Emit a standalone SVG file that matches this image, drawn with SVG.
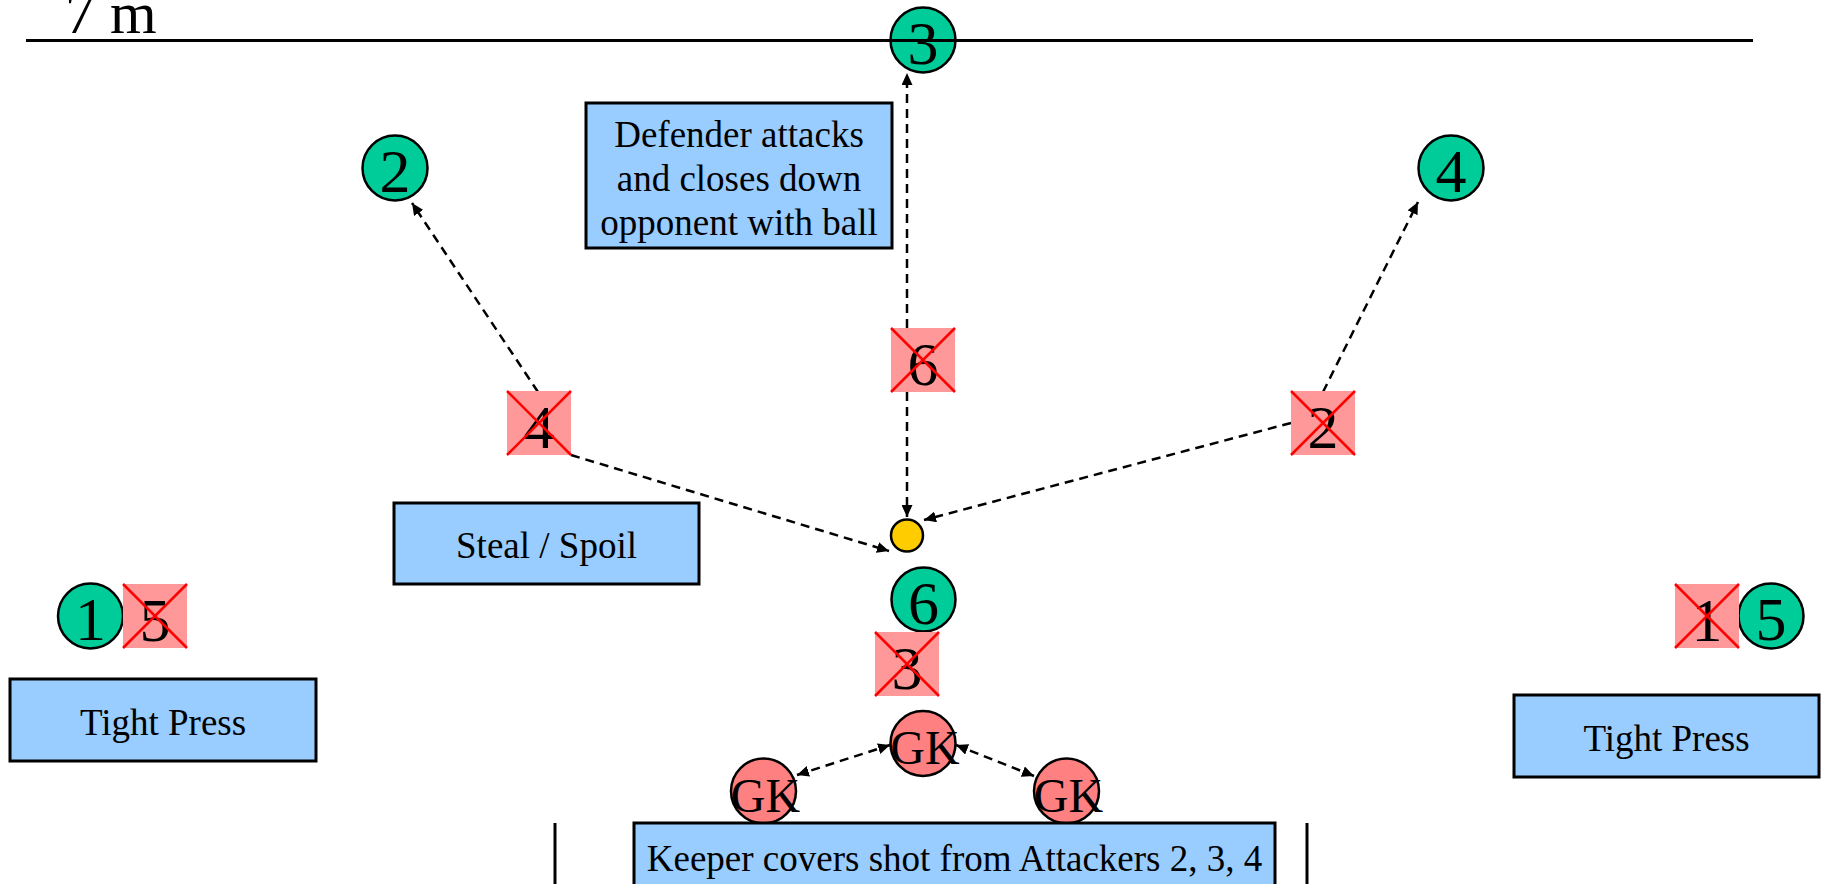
<svg xmlns="http://www.w3.org/2000/svg" width="1826" height="884" viewBox="0 0 1826 884">
  <style>
    .att { fill: #00CC99; stroke: #000; stroke-width: 2.5; }
    .gk { fill: #FF8080; stroke: #000; stroke-width: 2.5; }
    .def { fill: #FF9999; stroke: none; }
    .cross { stroke: #FF0000; stroke-width: 2.5; }
    .ball { fill: #FFCC00; stroke: #000; stroke-width: 2.5; }
    .note { fill: #99CCFF; stroke: #000; stroke-width: 3; }
    .num { font-family: "Liberation Serif", "Times New Roman", serif; font-size: 62px; fill: #000; text-anchor: middle; }
    .gkt { font-family: "Liberation Serif", "Times New Roman", serif; font-size: 48px; fill: #000; text-anchor: middle; }
    .lbl { font-family: "Liberation Serif", "Times New Roman", serif; font-size: 37px; fill: #000; text-anchor: middle; }
    .run { fill: none; stroke: #000; stroke-width: 2.5; stroke-dasharray: 9 6; }
    .mark { stroke: #000; stroke-width: 3; }
  </style>
  <defs>
    <marker id="arrow" markerUnits="userSpaceOnUse" markerWidth="13" markerHeight="11" refX="12" refY="5.5" orient="auto-start-reverse">
      <path d="M0,0 L12,5.5 L0,11 z" fill="#000"/>
    </marker>
  </defs>

  <rect width="1826" height="884" fill="#fff"/>

  <!-- field markings -->
  <text x="65" y="33" font-family="Liberation Serif, Times New Roman, serif" font-size="60">7 m</text>
  <line class="mark" x1="555" y1="823" x2="555" y2="884"/>
  <line class="mark" x1="1307" y1="823" x2="1307" y2="884"/>

  <!-- movement and coverage lines -->
  <g id="connectors">
    <line class="run" x1="907" y1="328" x2="907" y2="73" marker-end="url(#arrow)"/>
    <line class="run" x1="907" y1="392" x2="907" y2="517" marker-end="url(#arrow)"/>
    <line class="run" x1="538" y1="392" x2="412" y2="203" marker-end="url(#arrow)"/>
    <line class="run" x1="571" y1="455" x2="889" y2="551" marker-end="url(#arrow)"/>
    <line class="run" x1="1323" y1="392" x2="1418" y2="202" marker-end="url(#arrow)"/>
    <line class="run" x1="1291" y1="423" x2="924" y2="520" marker-end="url(#arrow)"/>
    <line class="run" x1="797" y1="775" x2="890" y2="745" marker-start="url(#arrow)" marker-end="url(#arrow)"/>
    <line class="run" x1="956" y1="745" x2="1034" y2="776" marker-start="url(#arrow)" marker-end="url(#arrow)"/>
  </g>

  <!-- attackers -->
  <g id="att3"><circle class="att" cx="923" cy="40" r="32.5"/><text class="num" x="923" y="64">3</text></g>
  <g id="att2"><circle class="att" cx="395" cy="168" r="32.5"/><text class="num" x="395" y="192">2</text></g>
  <g id="att4"><circle class="att" cx="1451" cy="168" r="32.5"/><text class="num" x="1451" y="192">4</text></g>
  <g id="att1"><circle class="att" cx="90.5" cy="616" r="32.5"/><text class="num" x="90.5" y="640">1</text></g>
  <g id="att5"><circle class="att" cx="1771" cy="616" r="32.5"/><text class="num" x="1771" y="640">5</text></g>
  <g id="att6"><circle class="att" cx="923.5" cy="599.5" r="32"/><text class="num" x="923.5" y="624">6</text></g>

  <!-- beaten defenders -->
  <g id="def6"><rect class="def" x="891" y="328" width="64" height="64"/><text class="num" x="923" y="385">6</text><path class="cross" d="M891,328 L955,392 M955,328 L891,392"/></g>
  <g id="def4"><rect class="def" x="507" y="391" width="64" height="64"/><text class="num" x="539" y="448">4</text><path class="cross" d="M507,391 L571,455 M571,391 L507,455"/></g>
  <g id="def2"><rect class="def" x="1291" y="391" width="64" height="64"/><text class="num" x="1323" y="448">2</text><path class="cross" d="M1291,391 L1355,455 M1355,391 L1291,455"/></g>
  <g id="def5"><rect class="def" x="123" y="584" width="64" height="64"/><text class="num" x="155" y="641">5</text><path class="cross" d="M123,584 L187,648 M187,584 L123,648"/></g>
  <g id="def1"><rect class="def" x="1675" y="584" width="64" height="64"/><text class="num" x="1707" y="641">1</text><path class="cross" d="M1675,584 L1739,648 M1739,584 L1675,648"/></g>
  <g id="def3"><rect class="def" x="875" y="632" width="64" height="64"/><text class="num" x="907" y="689">3</text><path class="cross" d="M875,632 L939,696 M939,632 L875,696"/></g>

  <!-- ball -->
  <g id="ball"><circle class="ball" cx="907" cy="535.5" r="16"/></g>

  <!-- goalkeeper positions -->
  <g id="gk-centre"><circle class="gk" cx="923" cy="743.5" r="32.5"/><text class="gkt" x="925" y="764">GK</text></g>
  <g id="gk-left"><circle class="gk" cx="763.5" cy="791" r="32.5"/><text class="gkt" x="765.5" y="812">GK</text></g>
  <g id="gk-right"><circle class="gk" cx="1066.5" cy="791" r="32.5"/><text class="gkt" x="1068.5" y="812">GK</text></g>

  <!-- notes -->
  <g id="note-defender">
    <rect class="note" x="586" y="103" width="306" height="145"/>
    <text class="lbl" x="739" y="147">Defender attacks</text>
    <text class="lbl" x="739" y="191">and closes down</text>
    <text class="lbl" x="739" y="235">opponent with ball</text>
  </g>
  <g id="note-steal">
    <rect class="note" x="394" y="503" width="305" height="81"/>
    <text class="lbl" x="546.5" y="558">Steal / Spoil</text>
  </g>
  <g id="note-press-left">
    <rect class="note" x="10" y="679" width="306" height="82"/>
    <text class="lbl" x="163" y="735">Tight Press</text>
  </g>
  <g id="note-press-right">
    <rect class="note" x="1514" y="695" width="305" height="82"/>
    <text class="lbl" x="1666.5" y="751">Tight Press</text>
  </g>
  <g id="note-keeper">
    <rect class="note" x="634" y="823" width="641" height="80"/>
    <text class="lbl" x="954.5" y="871">Keeper covers shot from Attackers 2, 3, 4</text>
  </g>

  <!-- 7 m line -->
  <line class="mark" x1="26" y1="40.5" x2="1753" y2="40.5"/>
</svg>
